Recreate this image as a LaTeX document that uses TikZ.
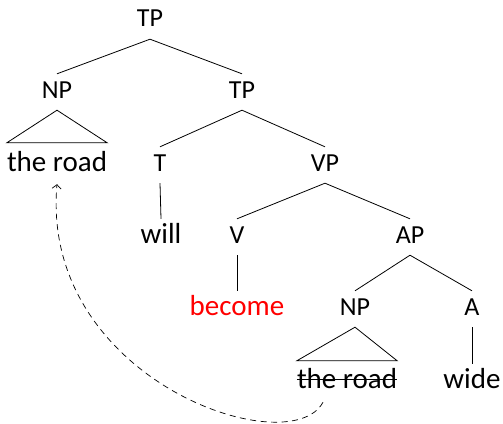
\documentclass[tikz,border=0pt]{standalone}
\usepackage{fontspec}
\setmainfont{Carlito}
\usetikzlibrary{arrows.meta}
\tikzset{
  lab/.style={font=\fontsize{26}{30}\selectfont, anchor=base, text height=17pt, text depth=5pt, inner ysep=7pt, inner xsep=1pt},
  wrd/.style={lab, font=\fontsize{29}{33}\selectfont},
  trw/.style={wrd, text height=21pt, inner xsep=0pt},
  br/.style={line width=0.8pt},
  mv/.style={dash pattern=on 6pt off 4.5pt, line width=0.7pt, -{Straight Barb[length=4pt,width=9pt]}}
}
\begin{document}
\begin{tikzpicture}[x=1pt,y=-1pt]
\useasboundingbox (0,0) rectangle (503,423);
\node[lab] (tp) at (150,27) {TP};
\node[lab] (np) at (57,98) {NP};
\node[lab] (tp2) at (242,98) {TP};
\node[trw] (r1) at (57,171) {the road};
\node[lab] (t) at (160,171) {T};
\node[lab] (vp) at (325,171) {VP};
\node[wrd] (will) at (161,243) {will};
\node[lab] (v) at (237,243) {V};
\node[lab] (ap) at (410,243) {AP};
\node[wrd, text=red] (become) at (237,315) {become};
\node[lab] (np2) at (355,315) {NP};
\node[lab] (a) at (472,315) {A};
\node[trw, text height=20pt] (r2) at (347,388) {the road};
\node[wrd] (wide) at (472,388) {wide};
\draw[br] (tp.south) -- (np.north);
\draw[br] (tp.south) -- (tp2.north);
\draw[br] (np.south) -- (r1.north west) -- (r1.north east) -- cycle;
\draw[br] (tp2.south) -- (t.north);
\draw[br] (tp2.south) -- (vp.north);
\draw[br] (t.south) -- (will.north);
\draw[br] (vp.south) -- (v.north);
\draw[br] (vp.south) -- (ap.north);
\draw[br] (v.south) -- (become.north);
\draw[br] (ap.south) -- (np2.north);
\draw[br] (ap.south) -- (a.north);
\draw[br] (np2.south) -- (r2.north west) -- (r2.north east) -- cycle;
\draw[br] (a.south) -- (wide.north);
\draw[br] ([yshift=9pt]r2.base west) -- ([yshift=9pt]r2.base east);
\draw[mv] ([xshift=-24pt,yshift=-2pt]r2.south) .. controls (290,464) and (40,380) .. ([yshift=-1pt]r1.south);
\end{tikzpicture}
\end{document}
